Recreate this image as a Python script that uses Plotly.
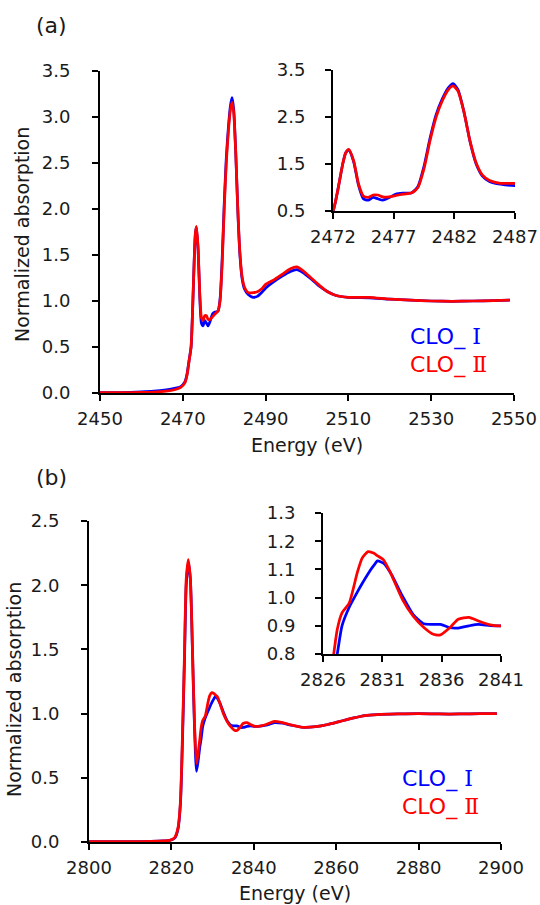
import plotly.graph_objects as go

# ---------------- data ----------------
# S K-edge (panel a)
E_S = [2450, 2455, 2460, 2463, 2466, 2468, 2469.5, 2470.5, 2471, 2471.5,
       2472, 2472.4, 2472.8, 2473.05, 2473.3, 2473.7, 2474.1, 2474.5, 2474.9, 2475.3,
       2475.7, 2476.1, 2476.6, 2477.2, 2477.8, 2478.5, 2479.0, 2479.5, 2480.0, 2480.5,
       2481.0, 2481.5, 2481.9, 2482.3, 2482.8, 2483.3, 2483.8, 2484.3, 2484.9, 2485.8,
       2487, 2488, 2489, 2490, 2492, 2494, 2496, 2497.5, 2499, 2501,
       2503, 2505, 2507, 2510, 2515, 2520, 2525, 2530, 2535, 2540,
       2545, 2549]
CLO1_S = [0.005, 0.005, 0.012, 0.02, 0.035, 0.05, 0.07, 0.12, 0.2, 0.35,
          0.5, 0.95, 1.5, 1.74, 1.80, 1.55, 1.05, 0.76, 0.73, 0.79,
          0.76, 0.73, 0.78, 0.86, 0.88, 0.89, 1.02, 1.45, 2.05, 2.55,
          2.88, 3.12, 3.21, 3.08, 2.6, 1.97, 1.5, 1.25, 1.13, 1.07,
          1.04, 1.05, 1.09, 1.14, 1.21, 1.27, 1.32, 1.34, 1.31, 1.24,
          1.16, 1.1, 1.06, 1.04, 1.035, 1.02, 1.01, 1.0, 0.997, 1.0,
          1.005, 1.01]
CLO2_S = [0.005, 0.003, 0.006, 0.01, 0.02, 0.035, 0.06, 0.11, 0.19, 0.34,
          0.5, 0.95, 1.5, 1.74, 1.81, 1.57, 1.08, 0.82, 0.79, 0.84,
          0.84, 0.8, 0.8, 0.83, 0.86, 0.89, 1.0, 1.4, 2.0, 2.5,
          2.84, 3.08, 3.16, 3.05, 2.6, 1.98, 1.52, 1.27, 1.15, 1.09,
          1.09, 1.1, 1.13, 1.18, 1.23, 1.29, 1.35, 1.37, 1.33, 1.25,
          1.17, 1.1, 1.06, 1.04, 1.04, 1.02, 1.01, 1.0, 0.997, 1.0,
          1.005, 1.01]

# Cl K-edge (panel b)
E_Cl = [2800, 2805, 2810, 2815, 2818, 2819.6, 2820.8, 2821.6, 2822.2, 2822.7,
        2823.2, 2823.6, 2824.1, 2824.6, 2825.1, 2825.6, 2826.1, 2826.6, 2826.9, 2827.2,
        2827.6, 2828.2, 2828.9, 2829.3, 2829.8, 2830.3, 2830.6, 2831.1, 2831.7, 2832.7,
        2833.6, 2834.5, 2835.3, 2835.9, 2836.7, 2837.4, 2838.3, 2839.1, 2840.1, 2841,
        2843, 2845, 2847, 2849, 2852, 2855, 2858, 2861, 2864, 2867,
        2870, 2875, 2880, 2885, 2890, 2895, 2899]
CLO1_Cl = [0.003, 0.002, 0.003, 0.005, 0.008, 0.013, 0.03, 0.1, 0.3, 0.8,
           1.45, 2.0, 2.18, 2.05, 1.5, 0.9, 0.55, 0.66, 0.74, 0.8,
           0.9, 0.965, 1.02, 1.05, 1.085, 1.115, 1.13, 1.122, 1.087, 1.005,
           0.94, 0.907, 0.905, 0.905, 0.893, 0.892, 0.9, 0.905, 0.901, 0.9,
           0.91, 0.93, 0.925, 0.91, 0.893, 0.898, 0.915, 0.94, 0.965, 0.985,
           0.992, 0.997, 1.0, 0.997, 0.997, 1.0, 1.0]
CLO2_Cl = [0.003, 0.002, 0.003, 0.005, 0.008, 0.013, 0.035, 0.11, 0.32, 0.85,
           1.5, 2.05, 2.2, 2.05, 1.52, 0.93, 0.61, 0.72, 0.8, 0.887,
           0.946, 0.98, 1.09, 1.14, 1.163, 1.157, 1.148, 1.134, 1.087, 0.993,
           0.934, 0.894, 0.87, 0.868, 0.894, 0.923, 0.93, 0.917, 0.903, 0.9,
           0.915, 0.94, 0.93, 0.912, 0.893, 0.898, 0.915, 0.94, 0.965, 0.985,
           0.992, 0.997, 1.0, 0.997, 0.997, 1.0, 1.0]

SERIES = ["CLO_Ⅰ", "CLO_Ⅱ"]
COLORS = ["#0000FF", "#FF0000"]

# tick values
XT_A = [2450, 2470, 2490, 2510, 2530, 2550]
YT_A = [0.0, 0.5, 1.0, 1.5, 2.0, 2.5, 3.0, 3.5]
XT_AI = [2472, 2477, 2482, 2487]
YT_AI = [0.5, 1.5, 2.5, 3.5]
XT_B = [2800, 2820, 2840, 2860, 2880, 2900]
YT_B = [0.0, 0.5, 1.0, 1.5, 2.0, 2.5]
XT_BI = [2826, 2831, 2836, 2841]
YT_BI = [0.8, 0.9, 1.0, 1.1, 1.2, 1.3]

# ---------------- figure ----------------
W, H = 540, 905
FONT = "DejaVu Sans"
TXT = "#1a1a1a"


def px_x(a, b):
    return [a / W, b / W]


def px_y(top, bottom):
    return [1 - bottom / H, 1 - top / H]


fig = go.Figure()

pairs = [("x", "y", E_S, CLO1_S, CLO2_S),
         ("x2", "y2", E_S, CLO1_S, CLO2_S),
         ("x3", "y3", E_Cl, CLO1_Cl, CLO2_Cl),
         ("x4", "y4", E_Cl, CLO1_Cl, CLO2_Cl)]
for xa, ya, E, s1, s2 in pairs:
    for name, vals, col in zip(SERIES, [s1, s2], COLORS):
        fig.add_trace(go.Scatter(x=E, y=vals, mode="lines", name=name,
                                 line=dict(color=col, width=2.75, shape="spline", smoothing=0.6),
                                 xaxis=xa, yaxis=ya, showlegend=False, hoverinfo="skip"))

axis_common = dict(showline=True, linecolor="black", linewidth=2, ticks="outside",
                   ticklen=6, tickwidth=2, tickcolor="black", showgrid=False, zeroline=False,
                   automargin=False,
                   tickfont=dict(family=FONT, size=18, color=TXT))

fig.update_layout(
    template="none",
    width=W, height=H, autosize=False,
    margin=dict(l=0, r=0, t=0, b=0, pad=0),
    paper_bgcolor="white", plot_bgcolor="rgba(0,0,0,0)",
    xaxis=dict(domain=px_x(100, 514), range=[2450, 2550], tickvals=XT_A,
               anchor="y", ticklabelstandoff=2, **axis_common),
    yaxis=dict(domain=px_y(71, 393), range=[0, 3.5], tickvals=YT_A, tickformat=".1f",
               anchor="x", ticklabelstandoff=18, **axis_common),
    xaxis2=dict(domain=px_x(333, 515), range=[2472, 2487], tickvals=XT_AI,
                anchor="y2", ticklabelstandoff=2, **axis_common),
    yaxis2=dict(domain=px_y(70, 211), range=[0.5, 3.5], tickvals=YT_AI, tickformat=".1f",
                anchor="x2", ticklabelstandoff=16, **axis_common),
    xaxis3=dict(domain=px_x(89, 501), range=[2800, 2900], tickvals=XT_B,
                anchor="y3", ticklabelstandoff=2, **axis_common),
    yaxis3=dict(domain=px_y(521, 842), range=[0, 2.5], tickvals=YT_B, tickformat=".1f",
                anchor="x3", ticklabelstandoff=18, **axis_common),
    xaxis4=dict(domain=px_x(323, 501), range=[2826, 2841], tickvals=XT_BI,
                anchor="y4", ticklabelstandoff=2, **axis_common),
    yaxis4=dict(domain=px_y(513, 654), range=[0.8, 1.3], tickvals=YT_BI, tickformat=".1f",
                anchor="x4", ticklabelstandoff=16, **axis_common),
)


def ann(text, x, y, size, color=TXT, angle=0, xanchor="center"):
    fig.add_annotation(text=text, x=x / W, y=1 - y / H, xref="paper", yref="paper",
                       showarrow=False, textangle=angle, xanchor=xanchor, yanchor="middle",
                       font=dict(family=FONT, size=size, color=color))


ann("(a)", 51, 26, 22)
ann("(b)", 51, 477, 22)
ann("Normalized absorption", 22, 235, 19, angle=-90)
ann("Normalized absorption", 14, 690, 19, angle=-90)
ann("Energy (eV)", 307, 445, 19)
ann("Energy (eV)", 295, 893, 19)


def legend_text(label):
    base, num = label.split("_")
    return (base + "_ " + "<span style=\"font-family:'DejaVu Serif'\">" + num + "</span>")


ann(legend_text(SERIES[0]), 408, 337, 22, color=COLORS[0], xanchor="left")
ann(legend_text(SERIES[1]), 408, 365, 22, color=COLORS[1], xanchor="left")
ann(legend_text(SERIES[0]), 400, 779, 22, color=COLORS[0], xanchor="left")
ann(legend_text(SERIES[1]), 400, 807, 22, color=COLORS[1], xanchor="left")

fig.write_html("out.html",
               config={"displayModeBar": False, "staticPlot": True},
               post_script="document.body.style.margin='0px';"
                           "document.body.style.overflow='hidden';")
